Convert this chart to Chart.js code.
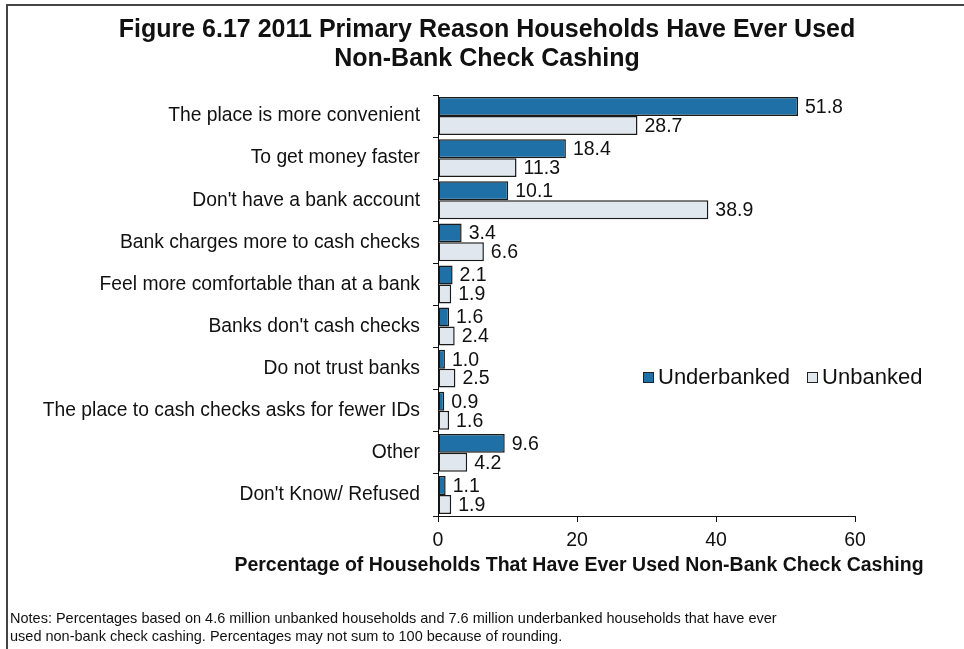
<!DOCTYPE html>
<html>
<head>
<meta charset="utf-8">
<script src="https://cdn.jsdelivr.net/npm/chart.js@4.4.1/dist/chart.umd.min.js"></script>
<style>
  html, body { margin: 0; padding: 0; background: #fff; }
  body { width: 964px; height: 649px; position: relative; overflow: hidden; font-family: "Liberation Sans", Arial, sans-serif; color: #111; }
  #frame { position: absolute; left: 6px; top: 4px; width: 1000px; height: 700px; border-left: 2px solid #444; border-top: 2px solid #444; }
  #wrap { position: absolute; left: 0; top: 0; width: 964px; height: 649px; }
  #title { position: absolute; left: 0; top: 14px; width: 974px; text-align: center; font-weight: bold; font-size: 25px; line-height: 29px; }
  #xtitle { position: absolute; left: 180px; top: 553px; width: 798px; text-align: center; font-weight: bold; font-size: 19.5px; white-space: nowrap; }
  #legend { position: absolute; left: 643px; top: 364px; font-size: 22px; white-space: nowrap; }
  #legend span.item { margin-right: 17px; }
  #legend span.box { display: inline-block; width: 9px; height: 9px; border: 1px solid #222; margin-right: 4px; vertical-align: 1px; }
  #notes { position: absolute; left: 10px; top: 609px; font-size: 14.5px; line-height: 18px; }
</style>
</head>
<body>
<div id="frame"></div>
<div id="wrap"><canvas id="chart" width="964" height="649"></canvas></div>
<div id="title">Figure 6.17 2011 Primary Reason Households Have Ever Used<br>Non-Bank Check Cashing</div>
<div id="xtitle">Percentage of Households That Have Ever Used Non-Bank Check Cashing</div>
<div id="legend"></div>
<div id="notes">Notes: Percentages based on 4.6 million unbanked households and 7.6 million underbanked households that have ever<br>used non-bank check cashing. Percentages may not sum to 100 because of rounding.</div>
<script>
const reasons = [
    'The place is more convenient',
    'To get money faster',
    "Don't have a bank account",
    'Bank charges more to cash checks',
    'Feel more comfortable than at a bank',
    "Banks don't cash checks",
    'Do not trust banks',
    'The place to cash checks asks for fewer IDs',
    'Other',
    "Don't Know/ Refused"
];
const underbanked = [51.8, 18.4, 10.1, 3.4, 2.1, 1.6, 1.0, 0.9, 9.6, 1.1];
const unbanked = [28.7, 11.3, 38.9, 6.6, 1.9, 2.4, 2.5, 1.6, 4.2, 1.9];
const xTicks = [0, 20, 40, 60];

const FONT = "'Liberation Sans', Arial, sans-serif";

// value labels at the end of each bar
const valueLabels = {
    id: 'valueLabels',
    afterDatasetsDraw(chart) {
        const ctx = chart.ctx;
        ctx.save();
        ctx.font = '19.5px ' + FONT;
        ctx.fillStyle = '#111';
        ctx.textBaseline = 'middle';
        ctx.textAlign = 'left';
        chart.data.datasets.forEach((ds, i) => {
            chart.getDatasetMeta(i).data.forEach((bar, j) => {
                ctx.fillText(ds.data[j].toFixed(1), bar.x + 7, bar.y + 1);
            });
        });
        ctx.restore();
    }
};

const ctx = document.getElementById('chart').getContext('2d');
const chart = new Chart(ctx, {
    type: 'bar',
    data: {
        labels: reasons,
        datasets: [
            {
                label: 'Underbanked',
                data: underbanked,
                backgroundColor: '#1f70a6',
                borderColor: '#1a1a1a',
                borderWidth: 1.5,
                borderSkipped: false
            },
            {
                label: 'Unbanked',
                data: unbanked,
                backgroundColor: '#e1e7ee',
                borderColor: '#1a1a1a',
                borderWidth: 1.5,
                borderSkipped: false
            }
        ]
    },
    options: {
        indexAxis: 'y',
        responsive: false,
        animation: false,
        layout: { padding: { top: 95, right: 109, left: 0, bottom: 0 } },
        categoryPercentage: 0.9,
        barPercentage: 1.0,
        scales: {
            x: {
                min: 0,
                max: 60,
                afterBuildTicks: axis => { axis.ticks = xTicks.map(v => ({ value: v })); },
                afterFit: axis => { axis.height = 133; },
                ticks: { font: { size: 19.5, family: FONT }, color: '#111', padding: 7 },
                grid: { drawOnChartArea: false, tickLength: 6, color: '#111' },
                border: { color: '#111', width: 1 }
            },
            y: {
                afterFit: axis => { axis.width = 438; },
                ticks: { font: { size: 19.3, family: FONT }, color: '#111', padding: 13, autoSkip: false },
                grid: { drawOnChartArea: false, tickLength: 5, color: '#111', offset: true },
                border: { color: '#111', width: 1 }
            }
        },
        plugins: {
            legend: { display: false },
            tooltip: { enabled: false }
        }
    },
    plugins: [valueLabels]
});

// legend from the datasets
const legend = document.getElementById('legend');
chart.data.datasets.forEach(ds => {
    const item = document.createElement('span');
    item.className = 'item';
    item.innerHTML = '<span class="box" style="background:' + ds.backgroundColor + '"></span>' + ds.label;
    legend.appendChild(item);
});
</script>
</body>
</html>
